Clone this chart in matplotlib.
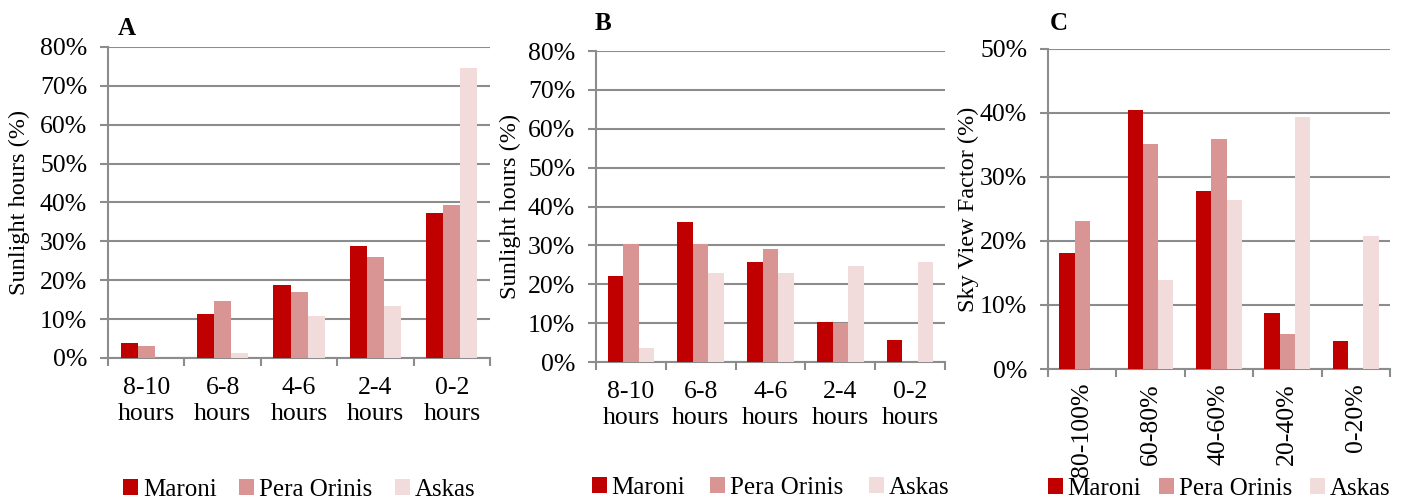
import matplotlib
matplotlib.use("Agg")
import matplotlib.pyplot as plt
from matplotlib.ticker import FixedLocator, PercentFormatter
import numpy as np

plt.rcParams["font.family"] = ["Liberation Serif", "DejaVu Serif"]

# Data (percent)
hours_labels = ["8-10\nhours", "6-8\nhours", "4-6\nhours", "2-4\nhours", "0-2\nhours"]
svf_labels = ["80-100%", "60-80%", "40-60%", "20-40%", "0-20%"]
series_names = ["Maroni", "Pera Orinis", "Askas"]

a_maroni = [3.8, 11.3, 18.8, 28.8, 37.4]
a_pera = [3.0, 14.6, 17.0, 26.0, 39.4]
a_askas = [0.0, 1.2, 10.9, 13.4, 74.5]

b_maroni = [22.2, 36.1, 25.7, 10.2, 5.6]
b_pera = [30.4, 30.4, 29.1, 10.0, 0.0]
b_askas = [3.6, 22.9, 23.0, 24.6, 25.6]

c_maroni = [18.1, 40.5, 27.8, 8.8, 4.4]
c_pera = [23.2, 35.1, 35.9, 5.4, 0.0]
c_askas = [0.0, 13.9, 26.4, 39.3, 20.8]

colors = ["#C00000", "#D99594", "#F2DCDB"]
grid_col = "#8C8C8C"

fig = plt.figure(figsize=(14.05, 5.03), dpi=100)


def draw_panel(rect, labels, series, ymax, ylabel, letter, rotate, leg_y,
               letter_xy, labelpad, colspace):
    ax = fig.add_axes(rect)
    x = np.arange(len(labels))
    w = 0.223
    for i, (vals, col, name) in enumerate(zip(series, colors, series_names)):
        ax.bar(x + (i - 1) * w, vals, width=w, color=col, label=name, zorder=3)
    ax.set_xlim(-0.5, len(labels) - 0.5)
    ax.set_ylim(0, ymax)
    ax.set_yticks(np.arange(0, ymax + 1, 10))
    ax.yaxis.set_major_formatter(PercentFormatter(decimals=0))
    ax.grid(axis="y", color=grid_col, linewidth=1.5, zorder=0)
    for s in ["top", "right"]:
        ax.spines[s].set_visible(False)
    for s in ["left", "bottom"]:
        ax.spines[s].set_color(grid_col)
        ax.spines[s].set_linewidth(1.5)
    ax.set_xticks(x)
    ax.set_xticklabels(labels, rotation=90 if rotate else 0, fontsize=18.5,
                       linespacing=1.2)
    ax.tick_params(axis="x", length=0, pad=10 if rotate else 14)
    ax.xaxis.set_minor_locator(FixedLocator(np.arange(-0.5, len(labels), 1)))
    ax.tick_params(axis="x", which="minor", length=6, width=1.5, color=grid_col)
    ax.tick_params(axis="y", length=6, width=1.5, color=grid_col, labelsize=18.5, pad=9)
    ax.set_ylabel(ylabel, fontsize=17.5, labelpad=labelpad)
    ax.text(letter_xy[0], letter_xy[1], letter, transform=ax.transAxes, fontsize=18,
            fontweight="bold", va="bottom", ha="left")
    ax.legend(loc="center", bbox_to_anchor=(0.5, leg_y), ncol=3, frameon=False,
              fontsize=18, handlelength=0.6, handleheight=0.6,
              handletextpad=0.2, columnspacing=colspace)
    return ax


draw_panel([0.0769, 0.2883, 0.2719, 0.6183], hours_labels,
           [a_maroni, a_pera, a_askas], 80, "Sunlight hours (%)", "A", False, -0.425,
           (0.025, 1.022), 7, 0.9)
draw_panel([0.4242, 0.2803, 0.2484, 0.6183], hours_labels,
           [b_maroni, b_pera, b_askas], 80, "Sunlight hours (%)", "B", False, -0.405,
           (-0.005, 1.05), 5, 1.0)
draw_panel([0.7459, 0.2664, 0.2434, 0.6362], svf_labels,
           [c_maroni, c_pera, c_askas], 50, "Sky View Factor (%)", "C", True, -0.375,
           (0.005, 1.045), 1, 0.7)

fig.savefig("out.png", dpi=100)
